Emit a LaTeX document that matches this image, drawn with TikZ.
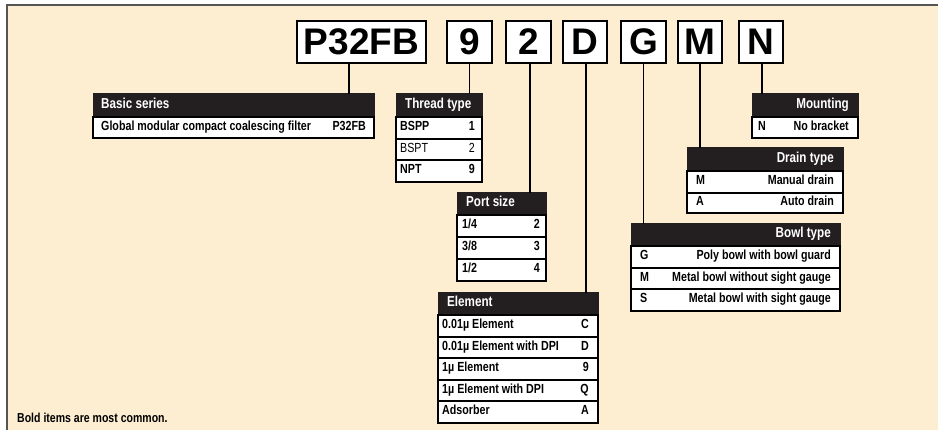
\documentclass[tikz,border=0pt]{standalone}
\usepackage{fontspec}
\setmainfont{Liberation Sans}
\newfontfamily\cond{Liberation Sans}[FakeStretch=0.81]
\definecolor{bgc}{RGB}{253,238,210}
\definecolor{bordc}{RGB}{85,85,85}
\definecolor{hdrc}{RGB}{35,31,32}
\newcommand\bx[6]{\node[#6, minimum width={(#4-#2)*1pt}, minimum height={(#5-#3)*1pt}] (#1) at ({(#2+#4)/2},{(#3+#5)/2}) {};}
\newcommand\ltx[4]{\node[#4, anchor=mid west] (#1l) at ([xshift=#2pt]#1.west) {#3};}
\newcommand\rtx[4]{\node[#4, anchor=mid east] (#1r) at ([xshift=-#2pt]#1.east) {#3};}
\tikzset{
  hdr/.style={fill=hdrc, draw=hdrc, line width=1pt, inner sep=0pt, outer sep=0pt},
  rowb/.style={fill=white, draw=black, line width=1.2pt, inner sep=0pt, outer sep=0pt},
  codeb/.style={fill=white, draw=black, line width=1.4pt, inner sep=0pt, outer sep=0pt},
  codet/.style={font=\bfseries\fontsize{37}{40}\selectfont, inner sep=0pt},
  htxt/.style={text=white, font=\cond\bfseries\fontsize{14.4}{16}\selectfont, inner sep=0pt},
  rtxt/.style={font=\cond\bfseries\fontsize{13.2}{15}\selectfont, inner sep=0pt},
  rtxtn/.style={font=\cond\fontsize{13.2}{15}\selectfont, inner sep=0pt},
  conn/.style={draw=black, line width=1.3pt},
}
\begin{document}
\begin{tikzpicture}[x=1pt,y=-1pt]
\useasboundingbox (0,0) rectangle (938,430);
\fill[bgc] (7,5) rectangle (938,430);
\draw[bordc, line width=1.6pt] (7,430) -- (7,5) -- (938,5);

% code boxes
\bx{cP}{297}{21}{426}{63}{codeb}
\bx{c9}{447}{21}{492}{63}{codeb}
\bx{c2}{506}{21}{551}{63}{codeb}
\bx{cD}{563}{21}{607}{63}{codeb}
\bx{cG}{621}{21}{666}{63}{codeb}
\bx{cM}{678}{21}{722}{63}{codeb}
\bx{cN}{739}{21}{783}{63}{codeb}
\node[codet] (tP) at (cP) {P32FB};
\node[codet] (t9) at (c9) {9};
\node[codet] (t2) at (c2) {2};
\node[codet] (tD) at (cD) {D};
\node[codet] (tG) at (cG) {G};
\node[codet] (tM) at (cM) {M};
\node[codet] (tN) at (cN) {N};

% Basic series
\bx{hB}{93}{94}{374}{117}{hdr}
\ltx{hB}{8}{Basic series}{htxt}
\bx{rB1}{93}{117}{374}{138}{rowb}
\ltx{rB1}{8}{Global modular compact coalescing filter}{rtxt}
\rtx{rB1}{8}{P32FB}{rtxt}

% Thread type
\bx{hT}{396}{94}{482}{117}{hdr}
\ltx{hT}{9}{Thread type}{htxt}
\bx{rT1}{396}{117}{482}{139}{rowb}
\ltx{rT1}{4}{BSPP}{rtxt}\rtx{rT1}{7}{1}{rtxt}
\bx{rT2}{396}{139}{482}{160}{rowb}
\ltx{rT2}{4}{BSPT}{rtxtn}\rtx{rT2}{7}{2}{rtxtn}
\bx{rT3}{396}{160}{482}{182}{rowb}
\ltx{rT3}{4}{NPT}{rtxt}\rtx{rT3}{7}{9}{rtxt}

% Port size
\bx{hP}{457}{193}{546}{215}{hdr}
\ltx{hP}{9}{Port size}{htxt}
\bx{rP1}{457}{215}{546}{237}{rowb}
\ltx{rP1}{5}{1/4}{rtxt}\rtx{rP1}{6}{2}{rtxt}
\bx{rP2}{457}{237}{546}{259}{rowb}
\ltx{rP2}{5}{3/8}{rtxt}\rtx{rP2}{6}{3}{rtxt}
\bx{rP3}{457}{259}{546}{281}{rowb}
\ltx{rP3}{5}{1/2}{rtxt}\rtx{rP3}{6}{4}{rtxt}

% Element
\bx{hE}{438}{293}{598}{315}{hdr}
\ltx{hE}{9}{Element}{htxt}
\bx{rE1}{438}{315}{598}{337}{rowb}
\ltx{rE1}{4}{0.01µ Element}{rtxt}\rtx{rE1}{9}{C}{rtxt}
\bx{rE2}{438}{337}{598}{358}{rowb}
\ltx{rE2}{4}{0.01µ Element with DPI}{rtxt}\rtx{rE2}{9}{D}{rtxt}
\bx{rE3}{438}{358}{598}{380}{rowb}
\ltx{rE3}{4}{1µ Element}{rtxt}\rtx{rE3}{9}{9}{rtxt}
\bx{rE4}{438}{380}{598}{401}{rowb}
\ltx{rE4}{4}{1µ Element with DPI}{rtxt}\rtx{rE4}{9}{Q}{rtxt}
\bx{rE5}{438}{401}{598}{423}{rowb}
\ltx{rE5}{4}{Adsorber}{rtxt}\rtx{rE5}{9}{A}{rtxt}

% Bowl type
\bx{hW}{631}{224}{840}{246}{hdr}
\rtx{hW}{9}{Bowl type}{htxt}
\bx{rW1}{631}{246}{840}{268}{rowb}
\ltx{rW1}{9}{G}{rtxt}\rtx{rW1}{9}{Poly bowl with bowl guard}{rtxt}
\bx{rW2}{631}{268}{840}{289}{rowb}
\ltx{rW2}{9}{M}{rtxt}\rtx{rW2}{9}{Metal bowl without sight gauge}{rtxt}
\bx{rW3}{631}{289}{840}{311}{rowb}
\ltx{rW3}{9}{S}{rtxt}\rtx{rW3}{9}{Metal bowl with sight gauge}{rtxt}

% Drain type
\bx{hD}{687}{148}{843}{171}{hdr}
\rtx{hD}{9}{Drain type}{htxt}
\bx{rD1}{687}{171}{843}{193}{rowb}
\ltx{rD1}{9}{M}{rtxt}\rtx{rD1}{9}{Manual drain}{rtxt}
\bx{rD2}{687}{193}{843}{213}{rowb}
\ltx{rD2}{9}{A}{rtxt}\rtx{rD2}{9}{Auto drain}{rtxt}

% Mounting
\bx{hM}{752}{94}{858}{117}{hdr}
\rtx{hM}{9}{Mounting}{htxt}
\bx{rM1}{752}{117}{858}{138}{rowb}
\ltx{rM1}{6}{N}{rtxt}\rtx{rM1}{9}{No bracket}{rtxt}

% connectors
\draw[conn] ([xshift=-12.5pt]cP.south) -- ([xshift=-12.5pt]cP.south |- hB.north);
\draw[conn] (c9.south) -- (c9.south |- hT.north);
\draw[conn] ([xshift=1.5pt]c2.south) -- ([xshift=1.5pt]c2.south |- hP.north);
\draw[conn] ([xshift=1pt]cD.south) -- ([xshift=1pt]cD.south |- hE.north);
\draw[conn] (cG.south) -- (cG.south |- hW.north);
\draw[conn] (cM.south) -- (cM.south |- hD.north);
\draw[conn] ([xshift=1pt]cN.south) -- ([xshift=1pt]cN.south |- hM.north);

\node[font=\cond\bfseries\fontsize{13}{15}\selectfont, anchor=base west, inner sep=0pt] (note) at (17,423) {Bold items are most common.};
\end{tikzpicture}
\end{document}
